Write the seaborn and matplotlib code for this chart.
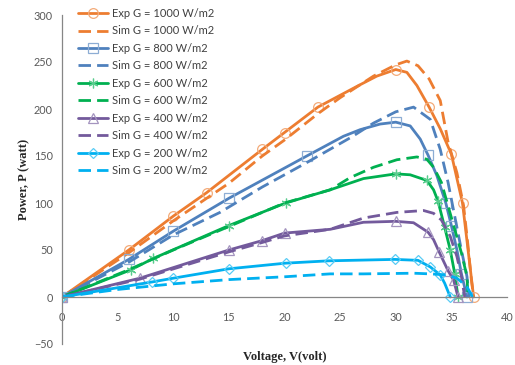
import matplotlib
matplotlib.use('Agg')
import matplotlib.pyplot as plt
import matplotlib.colors as mcolors
import seaborn as sns
import numpy as np

# Experimental curves (line points; marker indices below)
exp1000_v = [0, 6, 10, 13, 18, 20, 23, 26.5, 28.3, 30, 31, 31.9, 33, 34, 35, 36, 36.5, 37]
exp1000_p = [0, 50, 86, 111, 157, 175, 202, 224, 235, 242, 239, 225, 202, 179, 152, 100, 50, 0]
exp1000_mk = [0, 1, 2, 3, 4, 5, 6, 9, 12, 14, 15, 17]

exp800_v = [0, 6, 10, 15, 22, 25.3, 26.8, 28.6, 30, 31.3, 32.2, 32.9, 33.7, 34.5, 35, 35.5, 35.9, 36.4]
exp800_p = [0, 40, 70, 105, 150, 171, 178, 184, 186, 182, 168, 151, 129, 100, 76, 50, 25, 0]
exp800_mk = [0, 1, 2, 3, 4, 8, 11, 13, 14, 16, 17]

exp600_v = [0, 6.2, 8.2, 15, 20.1, 24.1, 27.1, 30, 31.3, 32.8, 33.4, 33.8, 34.4, 34.9, 35.3, 35.6]
exp600_p = [0, 29, 41, 76, 100, 114, 126, 131, 130, 124, 114, 102, 74, 50, 25, 0]
exp600_mk = [0, 1, 2, 3, 4, 7, 9, 11, 12, 13, 14, 15]

exp400_v = [0, 7, 15, 18, 20, 24.1, 27.1, 30, 31.6, 32.9, 33.4, 33.9, 34.7, 35.2, 35.6]
exp400_p = [0, 20, 50, 60, 68, 72, 79.5, 80.5, 79, 69, 61, 48, 28, 18, 0]
exp400_mk = [0, 1, 2, 3, 4, 7, 9, 11, 12, 13, 14]

exp200_v = [0, 8.1, 10, 15, 20.1, 24, 29.9, 32, 33.1, 34, 34.4, 34.9]
exp200_p = [0, 16, 20, 30, 36, 38.5, 40, 39, 32, 23.5, 14.6, 0]
exp200_mk = [0, 1, 2, 3, 4, 5, 6, 7, 8, 9, 11]

# Simulated curves
sim1000_v = [0, 6, 10, 13, 15, 18, 20, 23, 25, 28, 30, 31, 32, 33, 34, 34.7, 35.5, 36.1, 36.5, 36.8, 37]
sim1000_p = [0, 47, 81, 105, 121, 150, 167, 195, 212, 235, 247, 251, 246, 232, 209, 165, 132, 97, 54, 18, 0]

sim800_v = [0, 6, 10, 14.2, 18, 22, 26, 28, 30, 31.6, 33.1, 34, 34.7, 35.3, 35.9, 36.4, 36.6]
sim800_p = [0, 37, 66, 90, 117, 143, 170, 185, 197, 202, 189, 157, 122, 86, 50, 22, 0]

sim600_v = [0, 6, 10, 15, 20, 24.1, 25.9, 28, 30.1, 31.9, 32.8, 33.4, 34.1, 34.7, 35.3, 35.9, 36.4, 36.5]
sim600_p = [0, 29, 50, 75, 100, 114, 127, 138, 146, 149, 146.5, 138, 122, 97, 72, 47, 22, 0]

sim400_v = [0, 7, 15, 18, 20, 24.1, 27.1, 30.1, 32.5, 33.4, 34.1, 34.9, 35.5, 35.9, 36.2]
sim400_p = [0, 19, 48, 58, 65, 72, 84, 90, 92, 89, 82, 64.5, 43, 22, 0]

sim200_v = [0, 5, 10, 15, 20, 24.1, 27.1, 31.6, 33.1, 34.6, 35.5, 36.4, 36.9]
sim200_p = [0, 8, 14, 18.5, 21.5, 24.6, 24.6, 25.3, 24.6, 23.5, 20, 11, 0]

irradiance = [1000, 800, 600, 400, 200]
colors = ['#ED7D31', '#4F81BD', '#00B050', '#735A9C', '#00B0F0']
markers = ['o', 's', (6, 2, 0), '^', 'D']
msizes = [7, 6.5, 7, 6.5, 5]

exp_data = [(exp1000_v, exp1000_p, exp1000_mk), (exp800_v, exp800_p, exp800_mk),
            (exp600_v, exp600_p, exp600_mk), (exp400_v, exp400_p, exp400_mk),
            (exp200_v, exp200_p, exp200_mk)]
sim_data = [(sim1000_v, sim1000_p), (sim800_v, sim800_p), (sim600_v, sim600_p),
            (sim400_v, sim400_p), (sim200_v, sim200_p)]

sns.set_style('white')
plt.rcParams['font.family'] = ['Lato', 'DejaVu Sans']

fig = plt.figure(figsize=(5.15, 3.65), dpi=100)
ax = fig.add_axes([62 / 515, 21 / 365, 445 / 515, 329 / 365])


def lighten(c, amt=0.35):
    r, g, b = mcolors.to_rgb(c)
    return (r + (1 - r) * amt, g + (1 - g) * amt, b + (1 - b) * amt)


for i, g in enumerate(irradiance):
    ev, ep, mk = exp_data[i]
    sv, sp = sim_data[i]
    sns.lineplot(x=ev, y=ep, ax=ax, color=colors[i], linewidth=2, estimator=None, sort=False,
                 marker=markers[i], markevery=mk, markersize=msizes[i],
                 markerfacecolor='none', markeredgecolor=lighten(colors[i]), markeredgewidth=0.9,
                 label=f'Exp G = {g} W/m2')
    sns.lineplot(x=sv, y=sp, ax=ax, color=colors[i], linewidth=2, estimator=None, sort=False,
                 linestyle=(0, (4.5, 2.2)), label=f'Sim G = {g} W/m2')

ax.set_xlim(0, 40)
ax.set_ylim(-50, 300)
ax.set_xticks(np.arange(0, 41, 5))
ax.set_yticks(np.arange(-50, 301, 50))

for s in ['top', 'right']:
    ax.spines[s].set_visible(False)
ax.spines['bottom'].set_position(('data', 0))
for s in ['left', 'bottom']:
    ax.spines[s].set_color('#868686')
    ax.spines[s].set_linewidth(0.9)

ax.tick_params(axis='x', direction='out', length=3, width=0.8, color='#868686',
               labelcolor='#595959', labelsize=7.8, pad=7.8)
ax.tick_params(axis='y', direction='out', length=3.6, width=0.8, color='#868686',
               labelcolor='#595959', labelsize=7.8, pad=3)

ax.set_xlabel('Voltage, V(volt)', family='Liberation Serif', fontweight='bold', fontsize=9, color='#262626')
ax.set_ylabel('Power, P (watt)', family='Liberation Serif', fontweight='bold', fontsize=9, color='#262626')
ax.xaxis.set_label_coords(0.5, -0.022)
ax.yaxis.set_label_coords(-0.072, 0.5)

ax.legend(loc='upper left', bbox_to_anchor=(78 / 515, 1 - 8 / 365), bbox_transform=fig.transFigure,
          frameon=False, fontsize=8, handlelength=2.7, handletextpad=0.35, labelspacing=0.58,
          borderpad=0, borderaxespad=0, labelcolor='#404040')

fig.savefig('out.png', dpi=100)
